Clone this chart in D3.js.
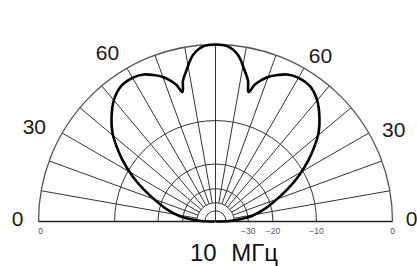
<!DOCTYPE html>
<html>
<head>
<meta charset="utf-8">
<script src="https://cdn.jsdelivr.net/npm/d3@7"></script>
<style>
  body { margin: 0; background: #fff; }
  svg { display: block; }
</style>
</head>
<body>
<div id="vis"></div>
<script>
var width = 417,
    height = 266;

// elevation angle (deg, 0 = left horizon, 180 = right horizon) and gain (dB)
var elevation = [0, 2, 4, 8.7, 14, 19, 24, 28.7, 33.5, 37, 40.7, 45, 50, 55, 60, 64, 67, 70, 72, 74, 75.7, 77, 79.2, 82.3, 86,
    90,
    94, 97.7, 100.8, 103, 104.3, 106, 108, 110, 113, 116, 120, 125, 130, 135, 139.3, 143, 146.5, 151.3, 156, 161, 166, 171.3, 176, 178, 180];
var gainDb = [-99, -45, -38, -28, -22.5, -18.5, -14.5, -11.1, -8.2, -6.4, -4.7, -3.3, -2.0, -1.25, -1.15, -1.4, -1.9, -2.5, -3.1, -3.9, -5.0, -3.6, -2.45, -0.93, -0.15,
    0,
    -0.15, -0.93, -2.45, -3.6, -5.0, -3.9, -3.1, -2.5, -1.9, -1.4, -1.15, -1.25, -2.0, -3.3, -4.7, -6.4, -8.2, -11.1, -14.5, -18.5, -22.5, -28, -38, -45, -99];

var ringDb = [-10, -20, -30, -40, -50];
var spokeAngles = [10, 20, 30, 40, 50, 60, 70, 80, 90, 100, 110, 120, 130, 140, 150, 160, 170];
var angleTicks = [0, 30, 60, 120, 150, 180];
var angleLabels = ["0", "30", "60", "60", "30", "0"];
var scaleDb = [-30, -20, -10, 0];
var scaleLabels = ["\u221230", "\u221220", "\u221210", "0"];
var caption = "10 МГц";

var cx = 215.5, cy = 221.5, R = 177;

// log-periodic radial scale: power ratio raised to a small exponent
var rPow = d3.scalePow().exponent(0.244).domain([0, 1]).range([0, R]);
function radius(db) { return rPow(Math.pow(10, db / 10)); }
function rad(deg) { return deg * Math.PI / 180; }
function px(r, el) { return -r * Math.cos(rad(el)); }
function py(r, el) { return -r * Math.sin(rad(el)); }

var svg = d3.select("#vis").append("svg")
    .attr("width", width)
    .attr("height", height);

svg.append("rect").attr("width", width).attr("height", height).attr("fill", "#fff");

var g = svg.append("g").attr("transform", `translate(${cx},${cy})`);

// rings
g.append("g")
    .attr("fill", "none")
    .attr("stroke", "#333")
    .attr("stroke-width", 1)
    .selectAll("path")
    .data(ringDb)
    .join("path")
    .attr("d", d => {
        var p = d3.path();
        p.arc(0, 0, radius(d), Math.PI, 2 * Math.PI);
        return p.toString();
    });

// spokes
g.append("g")
    .attr("stroke", "#333")
    .attr("stroke-width", 1)
    .selectAll("line")
    .data(spokeAngles)
    .join("line")
    .attr("x1", d => px(d === 90 ? 0 : radius(-40), d))
    .attr("y1", d => py(d === 90 ? 0 : radius(-40), d))
    .attr("x2", d => px(R, d))
    .attr("y2", d => py(R, d));

// outer ring
var outer = d3.path();
outer.arc(0, 0, R, Math.PI, 2 * Math.PI);
g.append("path")
    .attr("d", outer.toString())
    .attr("fill", "none")
    .attr("stroke", "#555")
    .attr("stroke-width", 1.3);

// baseline
g.append("line")
    .attr("x1", -R).attr("x2", R)
    .attr("y1", 0).attr("y2", 0)
    .attr("stroke", "#222")
    .attr("stroke-width", 1.5);

// pattern
var pattern = elevation.map((el, i) => ({ el: el, db: gainDb[i] }));
g.append("path")
    .datum(pattern)
    .attr("fill", "none")
    .attr("stroke", "#000")
    .attr("stroke-width", 2.6)
    .attr("stroke-linejoin", "round")
    .attr("d", d3.lineRadial()
        .angle(d => rad(d.el - 90))
        .radius(d => radius(d.db))
        .curve(d3.curveCatmullRom.alpha(0.5)));

// angle labels
g.append("g")
    .attr("font-family", "Liberation Sans, Arial, sans-serif")
    .attr("font-size", 21)
    .attr("fill", "#1a1a1a")
    .attr("text-anchor", "middle")
    .attr("dominant-baseline", "central")
    .selectAll("text")
    .data(angleTicks)
    .join("text")
    .attr("x", d => {
        var nx = d === 0 ? 2 : d === 180 ? -4 : (d < 90 ? -8 : 5);
        return px(200, d) + nx;
    })
    .attr("y", d => {
        var ny = d === 0 || d === 180 ? -3 : (d < 90 ? 5 : 8);
        return py(201, d) + ny;
    })
    .text((d, i) => angleLabels[i]);

// dB scale labels under the baseline
var small = g.append("g")
    .attr("font-family", "Liberation Sans, Arial, sans-serif")
    .attr("font-size", 8.5)
    .attr("fill", "#555")
    .attr("text-anchor", "middle");

small.selectAll("text")
    .data(scaleDb)
    .join("text")
    .attr("x", d => radius(d))
    .attr("y", 12)
    .text((d, i) => scaleLabels[i]);

small.append("text")
    .attr("x", -R + 2)
    .attr("y", 12)
    .text("0");

svg.append("text")
    .attr("x", 190)
    .attr("y", 261)
    .attr("font-family", "Liberation Sans, Arial, sans-serif")
    .attr("font-size", 24)
    .attr("word-spacing", 8)
    .attr("fill", "#111")
    .text(caption);
</script>
</body>
</html>
